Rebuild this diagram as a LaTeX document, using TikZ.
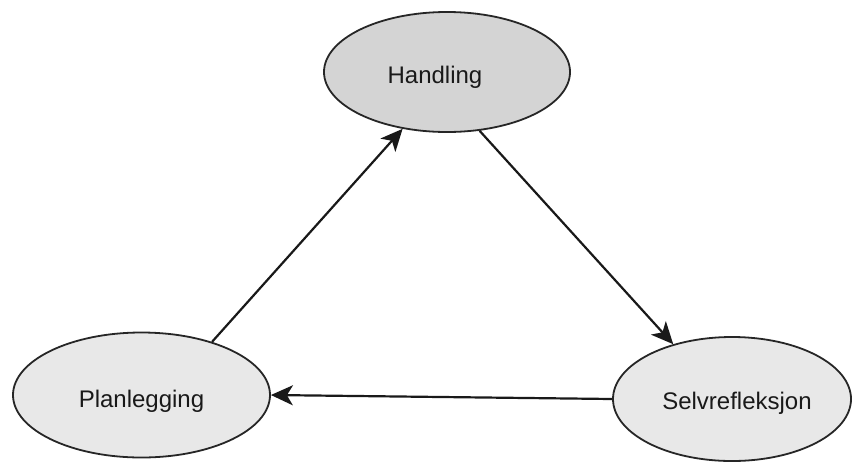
\documentclass[tikz,border=0pt]{standalone}
\usepackage{fontspec}
\setmainfont{Liberation Sans}
\usetikzlibrary{shapes.geometric,arrows.meta}
\begin{document}
\begin{tikzpicture}[x=1pt,y=-1pt,
  oval/.style={ellipse,draw=black!85,line width=1.8pt,inner sep=0pt},
  lbl/.style={font=\fontsize{24}{28}\selectfont,text=black!90,inner sep=0pt,anchor=base},
  arr/.style={line width=2.2pt,draw=black!90,-{Stealth[length=22pt,width=20pt,inset=6pt]}}]
\useasboundingbox (0,0) rectangle (853,461);
\clip (0,0) rectangle (853,461);
\node[oval,fill=black!17,minimum width=246pt,minimum height=120pt] (h) at (447,72) {};
\node[oval,fill=black!9,minimum width=257pt,minimum height=125pt] (p) at (141.5,395) {};
\node[oval,fill=black!9,minimum width=238pt,minimum height=124pt] (s) at (732,399) {};
\node[lbl] (ht) at (435,83) {Handling};
\node[lbl] (pt) at (141.5,407) {Planlegging};
\node[lbl] (st) at (737,409) {Selvrefleksjon};
\draw[arr] (p.37) -- (h.232);
\draw[arr] (h.-61) -- (s.137);
\draw[arr] (s.west) -- (p.east);
\end{tikzpicture}
\end{document}
